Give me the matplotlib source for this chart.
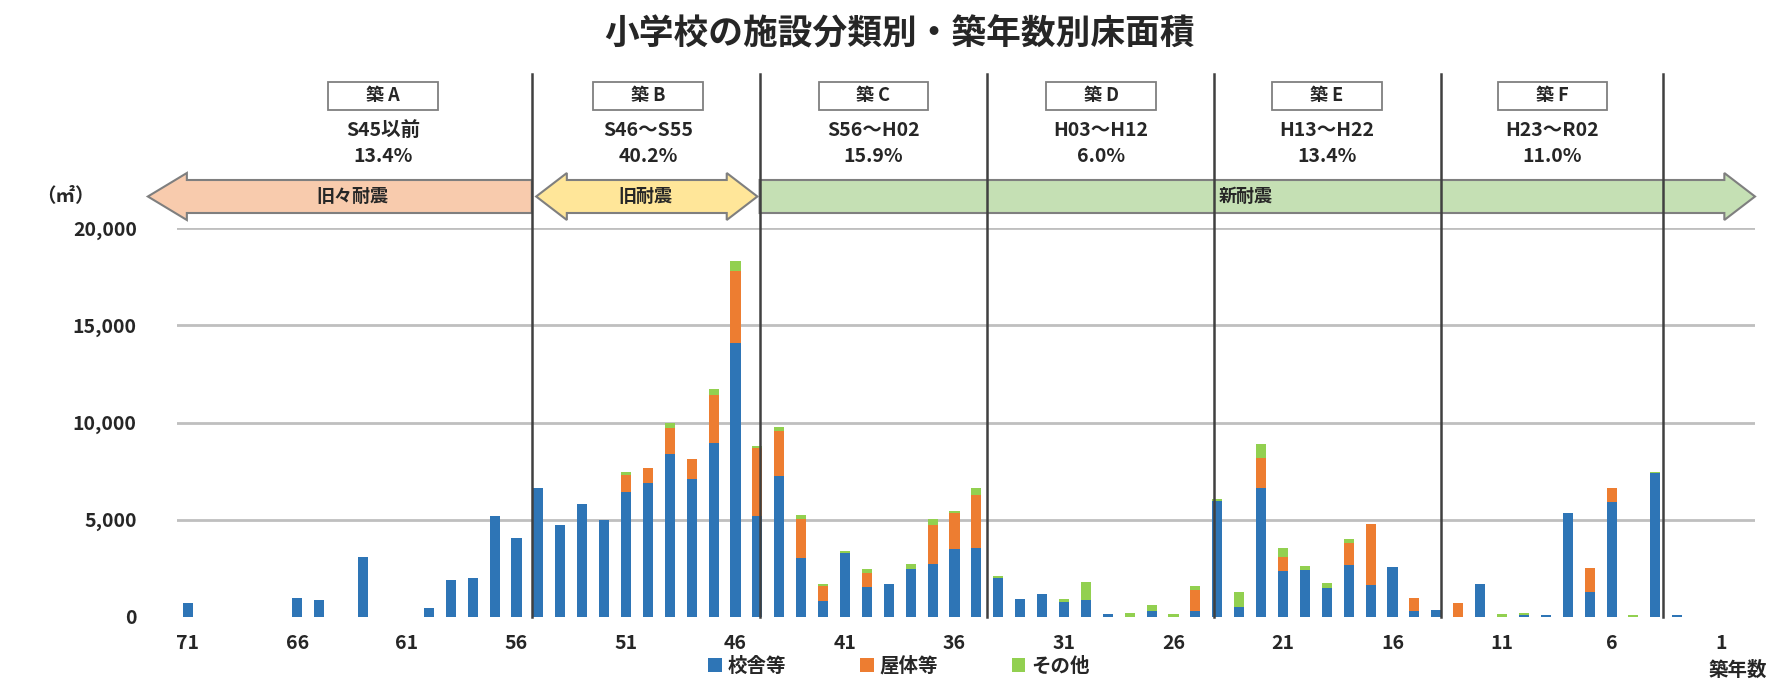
import matplotlib
matplotlib.use("Agg")
import matplotlib.pyplot as plt
import matplotlib.transforms as mtransforms
from matplotlib.patches import Polygon, Rectangle
from matplotlib.lines import Line2D
from matplotlib.ticker import FuncFormatter

plt.rcParams['font.family'] = ['Noto Sans CJK JP', 'DejaVu Sans']

# ---------------- data ----------------
years = list(range(71, 0, -1))  # building age (years), 71 -> 1

school = [700, 0, 0, 0, 0, 1000, 850, 0, 3100, 0, 0, 470, 1900, 2000,
          5200, 4070, 6650, 4740, 5820, 5000, 6450, 6890, 8400, 7100, 8950, 14100, 5170, 7230, 3020, 800,
          3300, 1550, 1700, 2450, 2730, 3490, 3540, 2000, 930, 1200, 750, 850, 150, 0, 300, 0, 300,
          5950, 500, 6630, 2350, 2400, 1500, 2680, 1650, 2550, 300, 350, 0, 1700, 0, 100, 100, 5350, 1280, 5930, 0, 7380, 120, 0, 0]

gym = [0] * 14 + \
      [0, 0, 0, 0, 0, 0, 850, 770, 1300, 1000, 2450, 3700, 3500, 2350, 2040, 800] + \
      [0, 700, 0, 0, 2000, 1840, 2740, 0, 0, 0, 0, 0, 0, 0, 0, 0, 1100] + \
      [0, 0, 1560, 750, 0, 0, 1100, 3140, 0, 700, 0, 700, 0, 0, 0, 0, 0, 1220, 700, 0, 0, 0, 0, 0]

other = [0] * 14 + \
        [0, 0, 0, 0, 0, 0, 150, 0, 280, 0, 300, 500, 100, 200, 200, 100] + \
        [80, 200, 0, 250, 300, 100, 350, 100, 0, 0, 200, 950, 0, 200, 300, 150, 200] + \
        [100, 800, 720, 450, 200, 250, 250, 0, 0, 0, 0, 0, 0, 150, 120, 0, 0, 0, 0, 100, 60, 0, 0, 0]

series_names = ['校舎等', '屋体等', 'その他']
series_colors = ['#2E75B6', '#ED7D31', '#92D050']

xtick_values = [71, 66, 61, 56, 51, 46, 41, 36, 31, 26, 21, 16, 11, 6, 1]
ytick_values = [0, 5000, 10000, 15000, 20000]

# period boundaries (in building-age units) and labels
boundaries = [55.3, 44.9, 34.5, 24.15, 13.8, 3.65]
period_centers = [62.1, 50.0, 39.7, 29.3, 19.0, 8.7]
period_names = ['築 A', '築 B', '築 C', '築 D', '築 E', '築 F']
period_ranges = ['S45以前', 'S46～S55', 'S56～H02', 'H03～H12', 'H13～H22', 'H23～R02']
period_shares = ['13.4%', '40.2%', '15.9%', '6.0%', '13.4%', '11.0%']

# ---------------- figure ----------------
W, H = 1776, 681
TXT = '#262626'
fig = plt.figure(figsize=(W / 100, H / 100), dpi=100)
fig.patch.set_facecolor('white')
ax = fig.add_axes([177 / W, 1 - 617 / H, (1755 - 177) / W, (617 - 228) / H])
ax.set_xlim(71.5, -0.55)
ax.set_ylim(0, 20000)

for yv in ytick_values[1:]:
    ax.axhline(yv, color='#BFBFBF', lw=2.0, zorder=0)

bw = 0.46
bottom2 = [a + b for a, b in zip(school, gym)]
ax.bar(years, school, width=bw, color=series_colors[0], label=series_names[0], zorder=2)
ax.bar(years, gym, width=bw, bottom=school, color=series_colors[1], label=series_names[1], zorder=2)
ax.bar(years, other, width=bw, bottom=bottom2, color=series_colors[2], label=series_names[2], zorder=2)

for s in ax.spines.values():
    s.set_visible(False)
ax.set_xticks(xtick_values)
ax.set_xticklabels([str(v) for v in xtick_values])
ax.set_yticks(ytick_values)
ax.yaxis.set_major_formatter(FuncFormatter(lambda v, p: f'{int(v):,}'))
ax.tick_params(axis='both', length=0, labelsize=14, colors=TXT)
ax.tick_params(axis='y', pad=29)
ax.tick_params(axis='x', pad=12)
for lab in ax.get_xticklabels() + ax.get_yticklabels():
    lab.set_fontweight('bold')

blend = mtransforms.blended_transform_factory(ax.transData, fig.transFigure)

def fy(py):
    return 1 - py / H

# vertical separators
for b in boundaries:
    ln = Line2D([b, b], [fy(617), fy(74)], transform=blend, color='#404040', lw=1.8,
                clip_on=False, zorder=5)
    ax.add_line(ln)

# seismic-standard arrows
bt, bb, ht, hb, mid = fy(180), fy(213), fy(173), fy(220), fy(196.5)
edge = '#7F7F7F'
arr1 = [(72.83, mid), (71.05, ht), (71.05, bt), (55.3, bt), (55.3, bb), (71.05, bb), (71.05, hb)]
arr2 = [(55.1, mid), (53.7, ht), (53.7, bt), (46.4, bt), (46.4, ht), (45.0, mid),
        (46.4, hb), (46.4, bb), (53.7, bb), (53.7, hb)]
arr3 = [(44.9, bt), (0.85, bt), (0.85, ht), (-0.55, mid), (0.85, hb), (0.85, bb), (44.9, bb)]
for pts, fc in [(arr1, '#F8CBAD'), (arr2, '#FFE699'), (arr3, '#C5E0B4')]:
    ax.add_patch(Polygon(pts, closed=True, transform=blend, facecolor=fc, edgecolor=edge,
                         lw=1.5, clip_on=False, zorder=4))
for x, t in [(63.5, '旧々耐震'), (50.1, '旧耐震'), (22.7, '新耐震')]:
    ax.text(x, mid, t, transform=blend, ha='center', va='center', fontsize=13,
            fontweight='bold', color=TXT, zorder=6)

# period labels
box_w = 5.0
for c, nm, rg, sh in zip(period_centers, period_names, period_ranges, period_shares):
    ax.add_patch(Rectangle((c - box_w / 2, fy(110)), box_w, fy(82) - fy(110), transform=blend,
                           facecolor='white', edgecolor='#7F7F7F', lw=1.3, clip_on=False, zorder=4))
    ax.text(c, fy(96), nm, transform=blend, ha='center', va='center', fontsize=13,
            fontweight='bold', color=TXT, zorder=7)
    ax.text(c, fy(130), rg, transform=blend, ha='center', va='center', fontsize=14,
            fontweight='bold', color=TXT, zorder=7)
    ax.text(c, fy(157), sh, transform=blend, ha='center', va='center', fontsize=14,
            fontweight='bold', color=TXT, zorder=7)

fig.text(900 / W, fy(34), '小学校の施設分類別・築年数別床面積', ha='center', va='center',
         fontsize=25, fontweight='bold', color=TXT)
fig.text(65 / W, fy(196), '（㎡）', ha='center', va='center', fontsize=14,
         fontweight='bold', color=TXT)
fig.text(1767 / W, fy(670), '築年数', ha='right', va='center', fontsize=14,
         fontweight='bold', color=TXT)

leg = fig.legend(loc='center', bbox_to_anchor=(899 / W, fy(666)), ncol=3, frameon=False,
                 fontsize=14, handlelength=0.7, handleheight=0.7, handletextpad=0.3,
                 columnspacing=3.8, borderpad=0)
for t in leg.get_texts():
    t.set_color(TXT)
    t.set_fontweight('bold')

fig.savefig('out.png', dpi=100, facecolor='white')
